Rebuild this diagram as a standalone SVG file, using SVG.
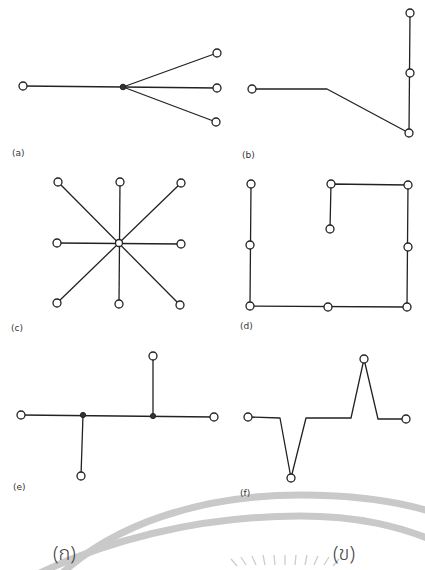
<svg xmlns="http://www.w3.org/2000/svg" width="425" height="570" viewBox="0 0 425 570">
<style>
.e{stroke:#222;stroke-width:1.3;fill:none;stroke-linejoin:round}
.n{fill:#fff;stroke:#222;stroke-width:1.3}
.d{fill:#333;stroke:#222;stroke-width:1}
.lb{font-family:"DejaVu Sans","Liberation Sans",sans-serif;font-size:9px;fill:#333}
.th{font-family:"Noto Sans Thai","Noto Sans","DejaVu Sans",sans-serif;font-size:20px;font-weight:300;fill:#444}
.wm{fill:none;stroke:#c9c9c9;stroke-width:7}
.ray{stroke:#cccccc;stroke-width:1.3}
</style>
<rect width="425" height="570" fill="#fff"/>
<g id="watermark">
<path class="wm" d="M55,580 C110,525 200,495 300,495 C360,495 400,502 432,512"/>
<path class="wm" d="M18,584 C100,540 200,516 300,516 C360,516 400,527 432,540"/>
<g id="rays">
<line class="ray" x1="237" y1="566" x2="231" y2="559"/>
<line class="ray" x1="246" y1="565" x2="241" y2="557"/>
<line class="ray" x1="256" y1="565" x2="252" y2="556"/>
<line class="ray" x1="265" y1="565" x2="263" y2="555"/>
<line class="ray" x1="275" y1="565" x2="274" y2="555"/>
<line class="ray" x1="285" y1="565" x2="285" y2="555"/>
<line class="ray" x1="295" y1="565" x2="296" y2="555"/>
<line class="ray" x1="305" y1="565" x2="307" y2="555"/>
<line class="ray" x1="314" y1="565" x2="318" y2="556"/>
<line class="ray" x1="324" y1="565" x2="329" y2="557"/>
<line class="ray" x1="333" y1="566" x2="339" y2="559"/>
</g>
</g>
<g id="connectors">
<line class="e" x1="23" y1="86" x2="123" y2="87"/>
<line class="e" x1="123" y1="87" x2="217" y2="53"/>
<line class="e" x1="123" y1="87" x2="217" y2="88"/>
<line class="e" x1="123" y1="87" x2="216" y2="122"/>
<polyline class="e" points="252,89 327,89 409,133"/>
<line class="e" x1="410" y1="13" x2="409" y2="133"/>
<line class="e" x1="58" y1="182" x2="180" y2="305"/>
<line class="e" x1="181" y1="183" x2="57" y2="303"/>
<line class="e" x1="120" y1="182" x2="119" y2="304"/>
<line class="e" x1="57" y1="243" x2="181" y2="244"/>
<polyline class="e" points="251,184 250,306 407,307 408,185 331,184 330,229"/>
<line class="e" x1="21" y1="415" x2="214" y2="417"/>
<line class="e" x1="83" y1="415" x2="81" y2="476"/>
<line class="e" x1="153" y1="416" x2="153" y2="356"/>
<polyline class="e" points="248,417 280,418 291,478 306,418 351,418 364,359 378,419 406,419"/>
</g>
<g id="a">
<circle class="n" cx="23" cy="86" r="4"/>
<circle class="d" cx="123" cy="87" r="2.8"/>
<circle class="n" cx="217" cy="53" r="4"/>
<circle class="n" cx="217" cy="88" r="4"/>
<circle class="n" cx="216" cy="122" r="4"/>
<text class="lb" x="12" y="156">(a)</text>
</g>
<g id="b">
<circle class="n" cx="252" cy="89" r="4"/>
<circle class="n" cx="410" cy="13" r="4"/>
<circle class="n" cx="410" cy="73" r="4"/>
<circle class="n" cx="409" cy="133" r="4"/>
<text class="lb" x="242" y="158">(b)</text>
</g>
<g id="c">
<circle class="n" cx="119" cy="243" r="3.5"/>
<circle class="n" cx="58" cy="182" r="4"/>
<circle class="n" cx="120" cy="182" r="4"/>
<circle class="n" cx="181" cy="183" r="4"/>
<circle class="n" cx="57" cy="243" r="4"/>
<circle class="n" cx="181" cy="244" r="4"/>
<circle class="n" cx="57" cy="303" r="4"/>
<circle class="n" cx="119" cy="304" r="4"/>
<circle class="n" cx="180" cy="305" r="4"/>
<text class="lb" x="11" y="331">(c)</text>
</g>
<g id="d">
<circle class="n" cx="251" cy="184" r="4"/>
<circle class="n" cx="250" cy="245" r="4"/>
<circle class="n" cx="250" cy="306" r="4"/>
<circle class="n" cx="328" cy="307" r="4"/>
<circle class="n" cx="407" cy="307" r="4"/>
<circle class="n" cx="408" cy="247" r="4"/>
<circle class="n" cx="408" cy="185" r="4"/>
<circle class="n" cx="331" cy="184" r="4"/>
<circle class="n" cx="330" cy="229" r="4"/>
<text class="lb" x="240" y="329">(d)</text>
</g>
<g id="e">
<circle class="n" cx="21" cy="415" r="4"/>
<circle class="d" cx="83" cy="415" r="2.6"/>
<circle class="d" cx="153" cy="416" r="2.6"/>
<circle class="n" cx="214" cy="417" r="4"/>
<circle class="n" cx="153" cy="356" r="4"/>
<circle class="n" cx="81" cy="476" r="4"/>
<text class="lb" x="13" y="490">(e)</text>
</g>
<g id="f">
<circle class="n" cx="248" cy="417" r="4"/>
<circle class="n" cx="291" cy="478" r="4"/>
<circle class="n" cx="364" cy="359" r="4"/>
<circle class="n" cx="406" cy="419" r="4"/>
<text class="lb" x="240" y="496">(f)</text>
</g>
<g id="labels">
<text class="th" x="53" y="560">(ก)</text>
<text class="th" x="333" y="560">(ข)</text>
</g>
</svg>
